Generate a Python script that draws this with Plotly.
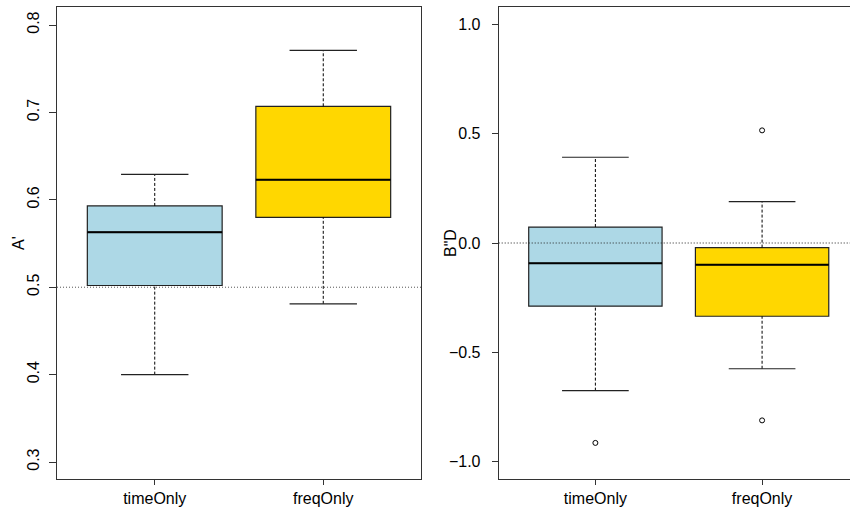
import plotly.graph_objects as go

# ---- data ----
categories = ["timeOnly", "freqOnly"]
positions = [1, 2]

# Panel 1: A'
a_q1 = [0.502, 0.580]
a_median = [0.563, 0.623]
a_q3 = [0.593, 0.707]
a_low = [0.400, 0.481]
a_high = [0.629, 0.771]

# Panel 2: B"D
b_q1 = [-0.289, -0.335]
b_median = [-0.093, -0.099]
b_q3 = [0.073, -0.021]
b_low = [-0.675, -0.575]
b_high = [0.392, 0.189]
b_out_time = [-0.914]
b_out_freq = [0.515, -0.811]

colors = ["#ADD8E6", "#FFD700"]

a_ticks = [0.3, 0.4, 0.5, 0.6, 0.7, 0.8]
a_ticktext = ["0.3", "0.4", "0.5", "0.6", "0.7", "0.8"]
b_ticks = [-1.0, -0.5, 0.0, 0.5, 1.0]
b_ticktext = ["\u22121.0", "\u22120.5", "0.0", "0.5", "1.0"]

FONT = "Liberation Sans, Arial, Helvetica, sans-serif"
FS = 16
BOXW = 0.8
CAPW = 0.4

fig = go.Figure()


def add_panel(xa, ya, q1, med, q3, low, high, outliers):
    for i in range(len(categories)):
        x = positions[i]
        # box body
        fig.add_trace(go.Box(
            x=[x], q1=[q1[i]], median=[med[i]], q3=[q3[i]],
            lowerfence=[q1[i]], upperfence=[q3[i]],
            width=BOXW, whiskerwidth=0,
            fillcolor=colors[i], line=dict(color="#222222", width=1.2),
            xaxis=xa, yaxis=ya, showlegend=False, hoverinfo="skip",
            boxpoints=False,
        ))
        # median
        fig.add_trace(go.Scatter(
            x=[x - BOXW / 2, x + BOXW / 2], y=[med[i], med[i]], mode="lines",
            line=dict(color="black", width=2), xaxis=xa, yaxis=ya,
            showlegend=False, hoverinfo="skip"))
        # whiskers (dashed)
        for a, b in ((low[i], q1[i]), (q3[i], high[i])):
            fig.add_trace(go.Scatter(
                x=[x, x], y=[a, b], mode="lines",
                line=dict(color="black", width=1, dash="3px,2px"),
                xaxis=xa, yaxis=ya, showlegend=False, hoverinfo="skip"))
        # caps
        for v in (low[i], high[i]):
            fig.add_trace(go.Scatter(
                x=[x - CAPW / 2, x + CAPW / 2], y=[v, v], mode="lines",
                line=dict(color="#222222", width=1.2),
                xaxis=xa, yaxis=ya, showlegend=False, hoverinfo="skip"))
        if outliers is not None and outliers[i]:
            fig.add_trace(go.Scatter(
                x=[x] * len(outliers[i]), y=outliers[i], mode="markers",
                marker=dict(symbol="circle-open", size=5, color="black",
                            line=dict(width=1)),
                xaxis=xa, yaxis=ya, showlegend=False, hoverinfo="skip"))


add_panel("x", "y", a_q1, a_median, a_q3, a_low, a_high, None)
add_panel("x2", "y2", b_q1, b_median, b_q3, b_low, b_high,
          [b_out_time, b_out_freq])

W, H = 850, 508
ydom = [29 / H, 501 / H]

axis_common = dict(showgrid=False, zeroline=False, showline=True,
                   linecolor="#333333", linewidth=1, ticks="outside",
                   tickcolor="#333333", tickwidth=1,
                   tickfont=dict(family=FONT, size=FS, color="black"))

fig.update_layout(
    width=W, height=H,
    margin=dict(l=0, r=0, t=0, b=0),
    paper_bgcolor="white", plot_bgcolor="white",
    font=dict(family=FONT, size=FS, color="black"),
    xaxis=dict(domain=[57 / W, 421 / W], range=[0.42, 2.58],
               tickmode="array", tickvals=positions, ticktext=categories,
               mirror=True, ticklen=5, anchor="y", **axis_common),
    yaxis=dict(domain=ydom, range=[0.2806, 0.8206], tickmode="array",
               tickvals=a_ticks, ticktext=a_ticktext, tickangle=-90,
               mirror=True, ticklen=7, anchor="x", ticklabelstandoff=4,
               **axis_common),
    xaxis2=dict(domain=[498.7 / W, 1.0], range=[0.42, 0.42 + 351.3 / 166.7],
                tickmode="array", tickvals=positions, ticktext=categories,
                mirror=True, ticklen=5, anchor="y2", **axis_common),
    yaxis2=dict(domain=ydom, range=[-1.079, 1.079], tickmode="array",
                tickvals=b_ticks, ticktext=b_ticktext,
                mirror=False, ticklen=6, anchor="x2", ticklabelstandoff=8,
                **axis_common),
    shapes=[
        dict(type="line", xref="x domain", yref="y", x0=0, x1=1,
             y0=0.5, y1=0.5,
             line=dict(color="#555555", width=1, dash="1px,2px")),
        dict(type="line", xref="x2 domain", yref="y2", x0=0, x1=1,
             y0=0.0, y1=0.0,
             line=dict(color="#222222", width=1, dash="1px,2px")),
    ],
    annotations=[
        dict(text="A'", xref="paper", yref="paper", x=18 / W, y=(H - 243) / H,
             textangle=-90, showarrow=False, xanchor="center", yanchor="middle",
             font=dict(family=FONT, size=FS, color="black")),
        dict(text='B"D', xref="paper", yref="paper", x=450 / W, y=(H - 243) / H,
             textangle=-90, showarrow=False, xanchor="center", yanchor="middle",
             font=dict(family=FONT, size=FS, color="black")),
    ],
)

fig.write_html("out.html")
